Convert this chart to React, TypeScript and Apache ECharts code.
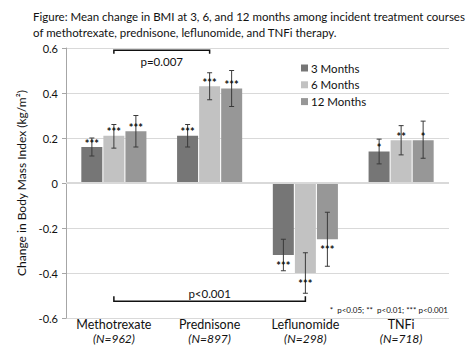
import React, { useEffect, useRef } from "react";
import * as echarts from "echarts";

const categories = ["Methotrexate", "Prednisone", "Leflunomide", "TNFi"];
const sampleSizes = ["N=962", "N=897", "N=298", "N=718"];
const seriesNames = ["3 Months", "6 Months", "12 Months"];
const colors = ["#767676", "#c2c2c2", "#979797"];

const means3 = [0.16, 0.21, -0.32, 0.14];
const means6 = [0.21, 0.43, -0.4, 0.19];
const means12 = [0.23, 0.42, -0.25, 0.19];

const low3 = [0.12, 0.16, -0.39, 0.085];
const high3 = [0.2, 0.26, -0.25, 0.195];
const low6 = [0.155, 0.37, -0.49, 0.125];
const high6 = [0.26, 0.49, -0.31, 0.255];
const low12 = [0.16, 0.34, -0.37, 0.11];
const high12 = [0.3, 0.5, -0.13, 0.275];

const stars3 = ["***", "***", "***", "*"];
const stars6 = ["***", "***", "***", "**"];
const stars12 = ["***", "***", "***", "*"];

const yTicks = [-0.6, -0.4, -0.2, 0, 0.2, 0.4, 0.6];

const titleLines = [
  "Figure: Mean change in BMI at 3, 6, and 12 months among incident treatment courses",
  "of methotrexate, prednisone, leflunomide, and TNFi therapy.",
];

const brackets = [
  { from: 0, to: 1, y: 0.59, legs: -0.015, label: "p=0.007", labelDy: 11 },
  { from: 0, to: 2, y: -0.525, legs: 0.022, label: "p<0.001", labelDy: -8 },
];

const FONT = "Lato";

export default function App() {
  const ref = useRef<HTMLDivElement>(null);
  useEffect(() => {
    if (!ref.current) return;
    const chart = echarts.init(ref.current, null, { renderer: "svg" });
    const means = [means3, means6, means12];
    const lows = [low3, low6, low12];
    const highs = [high3, high6, high12];
    const stars = [stars3, stars6, stars12];
    const BW = 21;
    const GAP = 1;
    const offsets = [-(BW + GAP), 0, BW + GAP];

    const barSeries = seriesNames.map((name, i) => ({
      name,
      type: "bar",
      data: means[i],
      barWidth: BW,
      barGap: "5%",
      itemStyle: { color: colors[i] },
      z: 2,
    }));

    const errSeries = seriesNames.map((name, i) => ({
      name: name + " err",
      type: "custom",
      z: 5,
      silent: true,
      data: categories.map((_, c) => [c, lows[i][c], highs[i][c], means[i][c]]),
      renderItem: (params: any, api: any) => {
        const c = api.value(0);
        const lo = api.coord([c, api.value(1)]);
        const hi = api.coord([c, api.value(2)]);
        const mv = api.value(3);
        const m = api.coord([c, mv]);
        const x = lo[0] + offsets[i];
        const cap = 2.5;
        const st = { stroke: "#3a3a3a", lineWidth: 1 };
        const sy = mv >= 0 ? m[1] - 4 : m[1] + 10;
        return {
          type: "group",
          children: [
            { type: "line", shape: { x1: x, y1: lo[1], x2: x, y2: hi[1] }, style: st },
            { type: "line", shape: { x1: x - cap, y1: lo[1], x2: x + cap, y2: lo[1] }, style: st },
            { type: "line", shape: { x1: x - cap, y1: hi[1], x2: x + cap, y2: hi[1] }, style: st },
            {
              type: "text",
              x,
              y: sy,
              style: {
                text: stars[i][params.dataIndex],
                fill: "#111",
                fontSize: 11,
                fontWeight: "bold",
                fontFamily: FONT,
                align: "center",
                verticalAlign: "middle",
              },
            },
          ],
        };
      },
    }));

    const bracketSeries = {
      type: "custom",
      z: 6,
      silent: true,
      data: brackets.map((b) => [b.from, b.to, b.y, b.legs]),
      renderItem: (params: any, api: any) => {
        const b = brackets[params.dataIndex];
        const p1 = api.coord([api.value(0), api.value(2)]);
        const p2 = api.coord([api.value(1), api.value(2)]);
        const pl = api.coord([api.value(0), api.value(2) + api.value(3)]);
        const st = { stroke: "#111", lineWidth: 1.5 };
        return {
          type: "group",
          children: [
            { type: "polyline", shape: { points: [[p1[0], pl[1]], [p1[0], p1[1]], [p2[0], p2[1]], [p2[0], pl[1]]] }, style: { ...st, fill: "none" } },
            {
              type: "text",
              x: (p1[0] + p2[0]) / 2,
              y: p1[1] + b.labelDy,
              style: {
                text: b.label,
                fill: "#111",
                fontSize: 11.5,
                fontFamily: FONT,
                align: "center",
                verticalAlign: "middle",
              },
            },
          ],
        };
      },
    };

    const catAxisBase = {
      type: "category",
      data: categories,
      position: "bottom",
      axisLine: { show: false },
      axisTick: { show: false },
      splitLine: { show: false },
    };

    chart.setOption({
      animation: false,
      textStyle: { fontFamily: FONT },
      legend: {
        data: seriesNames,
        orient: "vertical",
        left: 296,
        top: 57,
        itemWidth: 7,
        itemHeight: 7,
        itemGap: 4.8,
        icon: "rect",
        textStyle: { fontSize: 11.5, color: "#111", fontFamily: FONT, padding: [0, 0, 0, -2] },
      },
      grid: { left: 66, right: 21, top: 48, bottom: 35 },
      xAxis: [
        {
          ...catAxisBase,
          axisLabel: { interval: 0, margin: 1, fontSize: 12.5, lineHeight: 11, color: "#111", fontFamily: FONT },
        },
        {
          ...catAxisBase,
          offset: 13,
          axisLabel: {
            interval: 0,
            margin: 2,
            fontSize: 12,
            lineHeight: 11,
            fontStyle: "italic",
            color: "#111",
            fontFamily: FONT,
            formatter: (_v: string, idx: number) => `(${sampleSizes[idx]})`,
          },
        },
      ],
      yAxis: {
        type: "value",
        min: -0.6,
        max: 0.6,
        interval: 0.2,
        name: "Change in Body Mass Index (kg/m²)",
        nameLocation: "middle",
        nameGap: 38,
        nameTextStyle: { fontSize: 12, color: "#111", fontFamily: FONT },
        axisLine: { show: true, lineStyle: { color: "#a6a6a6" } },
        axisTick: { show: true, length: 4, lineStyle: { color: "#a6a6a6" } },
        splitLine: { lineStyle: { color: "#d9d9d9" } },
        axisLabel: {
          fontSize: 11,
          color: "#111",
          margin: 8,
          formatter: (v: number) => {
            const r = Math.round(v * 10) / 10;
            return yTicks.indexOf(r) >= 0 ? (r === 0 ? "0" : String(r)) : "";
          },
        },
      },
      series: [
        ...barSeries,
        ...errSeries,
        bracketSeries,
        {
          type: "line",
          data: [],
          markLine: {
            silent: true,
            symbol: "none",
            label: { show: false },
            lineStyle: { color: "#d9d9d9", width: 2, type: "solid" },
            data: [{ yAxis: 0 }],
          },
        },
      ],
      graphic: [
        ...titleLines.map((t, i) => ({
          type: "text",
          left: 33,
          top: 10 + i * 16,
          style: { text: t, fontSize: 11.5, fill: "#111", fontFamily: FONT },
        })),
        {
          type: "text",
          right: 22,
          top: 306,
          style: { text: "*  p<0.05; **  p<0.01; *** p<0.001", fontSize: 8, fill: "#111", fontFamily: FONT },
        },
      ],
    });
    return () => chart.dispose();
  }, []);
  return <div ref={ref} style={{ width: 470, height: 353, position: "absolute", left: 0, top: 0 }} />;
}
